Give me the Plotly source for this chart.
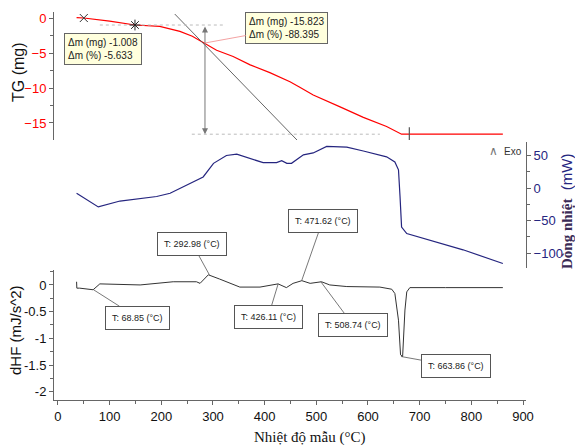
import plotly.graph_objects as go

# ---------------- data ----------------
# TG curve (mg) vs temperature (°C)
tg_temp = [36, 50, 100, 149, 197, 236, 260, 275, 285, 307, 339, 372, 410, 430, 449, 468,
           494, 546, 591, 636, 665, 700, 780, 861]
tg_mass = [0.05, 0.0, -0.45, -1.0, -1.2, -1.9, -2.6, -3.2, -3.7, -4.6, -5.5, -6.7, -7.8,
           -8.5, -9.1, -9.9, -11.0, -12.7, -14.2, -15.5, -16.6, -16.6, -16.6, -16.6]

# Heat flow curve (mW)
hf_temp = [36, 78, 120, 159, 191, 217, 249, 281, 301, 326, 346, 365, 397, 423, 433, 443,
           452, 475, 494, 520, 559, 591, 636, 652, 659, 662, 665, 675, 720, 784, 861]
hf_val = [-8, -29, -20, -16, -13, -8, 5, 17, 38, 50, 52, 47, 39, 39, 42, 38,
          38, 51, 54, 64, 63, 57, 48, 40, 28, -13, -60, -70, -80, -95, -116]

# dHF curve (mJ/s^2)
dhf_temp = [36, 36.5, 42, 55, 68, 81, 120, 159, 223, 268, 275, 291, 313, 352, 391, 426,
            442, 455, 472, 488, 510, 526, 559, 623, 646, 652, 659, 663, 667, 671.5, 675,
            681, 750, 861]
dhf_val = [0.06, -0.06, -0.06, -0.07, -0.09, 0.02, 0.01, 0.0, 0.06, 0.06, 0.03, 0.19, 0.11,
           -0.04, -0.04, 0.02, -0.05, 0.03, 0.08, 0.03, 0.06, 0.0, -0.03, -0.04, -0.08,
           -0.16, -0.66, -1.31, -1.34, -0.47, -0.13, -0.05, -0.05, -0.05]

# TG analysis marks
tg_start = (50, 0.0)
tg_step = (149, -1.0)
tg_end = (680, -16.6)
tangent_temp = [226, 474]
tangent_mass = [0.57, -18.3]
onset_temp = 284.5
upper_dot_temp = [81, 319]
lower_dot_temp = [259, 623]
step_level = -1.0
end_level = -16.6
box1_text = "Δm (mg) -1.008<br>Δm (%) -5.633"
box2_text = "Δm (mg) -15.823<br>Δm (%) -88.395"
box2_point = (284.5, -3.57)

# Peak labels on dHF
peak_temp = [68.85, 292.98, 426.11, 471.62, 508.74, 663.86]
peak_val = [-0.09, 0.19, 0.02, 0.08, 0.06, -1.34]
peak_text = ["T: 68.85 (°C)", "T: 292.98 (°C)", "T: 426.11 (°C)",
             "T: 471.62 (°C)", "T: 508.74 (°C)", "T: 663.86 (°C)"]
peak_offset = [(44, 28), (-17, -31), (-10, 33), (21, -60), (32, 43), (55, 10)]

x_ticks = [0, 100, 200, 300, 400, 500, 600, 700, 800, 900]
tg_ticks = [0, -5, -10, -15]
hf_ticks = [50, 0, -50, -100]
dhf_ticks = [0, -0.5, -1, -1.5, -2]
dhf_ticktext = ["0", "-0.5", "-1", "-1.5", "-2"]

W, H = 575, 445
SANS = "Liberation Sans, Arial"
AX = "#666666"

fig = go.Figure()

# TG (top)
fig.add_trace(go.Scatter(x=tg_temp, y=tg_mass, mode="lines", line=dict(color="#FF0000", width=1.2),
                         xaxis="x", yaxis="y3", hoverinfo="skip"))
fig.add_trace(go.Scatter(x=tangent_temp, y=tangent_mass, mode="lines",
                         line=dict(color="#555555", width=0.9), xaxis="x", yaxis="y3"))
fig.add_trace(go.Scatter(x=upper_dot_temp, y=[step_level, step_level], mode="lines",
                         line=dict(color="#BBBBBB", width=1, dash="dot"), xaxis="x", yaxis="y3"))
fig.add_trace(go.Scatter(x=lower_dot_temp, y=[end_level, end_level], mode="lines",
                         line=dict(color="#BBBBBB", width=1, dash="dot"), xaxis="x", yaxis="y3"))
fig.add_trace(go.Scatter(x=[tg_start[0]], y=[tg_start[1]], mode="markers",
                         marker=dict(symbol="x-thin", size=8, line=dict(color="#333", width=1)),
                         xaxis="x", yaxis="y3"))
fig.add_trace(go.Scatter(x=[tg_step[0]], y=[tg_step[1]], mode="markers",
                         marker=dict(symbol="asterisk", size=9, line=dict(color="#222", width=1)),
                         xaxis="x", yaxis="y3"))
fig.add_trace(go.Scatter(x=[tg_end[0]], y=[tg_end[1]], mode="markers",
                         marker=dict(symbol="line-ns", size=10, line=dict(color="#555", width=1.2)),
                         xaxis="x", yaxis="y3"))

# Heat flow (middle)
fig.add_trace(go.Scatter(x=hf_temp, y=hf_val, mode="lines", line=dict(color="#25257F", width=1.2),
                         xaxis="x", yaxis="y2"))

# dHF (bottom)
fig.add_trace(go.Scatter(x=dhf_temp, y=dhf_val, mode="lines", line=dict(color="#333333", width=1),
                         xaxis="x", yaxis="y"))

annotations = []
# onset arrow
annotations.append(dict(x=onset_temp, y=end_level, ax=onset_temp, ay=step_level,
                        xref="x", yref="y3", axref="x", ayref="y3", text="",
                        showarrow=True, arrowhead=2, arrowsize=1.2, arrowwidth=1,
                        arrowside="end+start", arrowcolor="#777777", standoff=0, startstandoff=0))
annotations.append(dict(x=88, y=-4.36, xref="x", yref="y3", text=box1_text, showarrow=False,
                        align="left", font=dict(family=SANS, size=10, color="#222"),
                        bgcolor="#FFFFDD", bordercolor="#666", borderwidth=1, borderpad=3))
annotations.append(dict(x=box2_point[0], y=box2_point[1], xref="x", yref="y3", text=box2_text,
                        showarrow=True, ax=82, ay=-15, arrowhead=0, arrowwidth=0.8,
                        arrowcolor="#F08A8A", align="left",
                        font=dict(family=SANS, size=10, color="#222"),
                        bgcolor="#FFFFDD", bordercolor="#666", borderwidth=1, borderpad=3))

for t, v, s, (ox, oy) in zip(peak_temp, peak_val, peak_text, peak_offset):
    annotations.append(dict(x=t, y=v, xref="x", yref="y", text=s, showarrow=True,
                            ax=ox, ay=oy, arrowhead=0, arrowwidth=0.8, arrowcolor="#555",
                            font=dict(family=SANS, size=9, color="#222"),
                            bgcolor="white", bordercolor="#555", borderwidth=1, borderpad=6))

# axis titles
ctr = dict(xanchor="center", yanchor="middle", showarrow=False, xref="paper", yref="paper")
annotations.append(dict(x=18 / W, y=1 - 72 / H, text="TG (mg)", textangle=-90,
                        font=dict(family="Liberation Sans, Arial", size=16, color="#111"), **ctr))
annotations.append(dict(x=15 / W, y=1 - 330 / H, text="dHF (mJ/s^2)", textangle=-90,
                        font=dict(family="Liberation Sans, Arial", size=15, color="#111"), **ctr))
annotations.append(dict(x=566 / W, y=1 - 212 / H,
                        text="<span style='font-family:Liberation Serif, Times New Roman; color:#3A2A55'>"
                             "<b>Dòng nhiệt</b></span>  (mW)",
                        textangle=-90,
                        font=dict(family="Liberation Sans, Arial", size=15, color="#25257F"), **ctr))
annotations.append(dict(x=309 / W, y=1 - 437 / H, text="Nhiệt độ mẫu (°C)",
                        font=dict(family="Liberation Serif, Times New Roman", size=15, color="#111"),
                        **ctr))
annotations.append(dict(x=513 / W, y=1 - 151 / H, text="Exo",
                        font=dict(family=SANS, size=10, color="#333"), **ctr))
annotations.append(dict(x=493 / W, y=1 - 151 / H, text="∧",
                        font=dict(family="DejaVu Sans", size=12, color="#777"), **ctr))

common = dict(ticks="outside", ticklen=4, tickcolor=AX, showline=True, linecolor=AX, linewidth=1,
              showgrid=False, zeroline=False, automargin=False)

fig.update_layout(
    width=W, height=H, margin=dict(l=0, r=0, t=0, b=0, autoexpand=False),
    paper_bgcolor="white", plot_bgcolor="white", showlegend=False,
    xaxis=dict(domain=[54 / W, 526 / W], range=[-7.7, 905.8], anchor="y",
               tickvals=x_ticks,
               minor=dict(dtick=50, ticks="outside", ticklen=3, tickcolor=AX),
               tickfont=dict(family=SANS, size=13, color="#111"), **common),
    yaxis=dict(domain=[1 - 400 / H, 1 - 270 / H], range=[-2.155, 0.28], anchor="x",
               tickvals=dhf_ticks, ticktext=dhf_ticktext,
               minor=dict(dtick=0.25, ticks="outside", ticklen=3, tickcolor=AX),
               tickfont=dict(family=SANS, size=13, color="#111"), **common),
    yaxis2=dict(domain=[1 - 268 / H, 1 - 142 / H], range=[-123, 70.8], anchor="x", side="right",
                tickvals=hf_ticks,
                minor=dict(dtick=25, ticks="outside", ticklen=3, tickcolor=AX),
                tickfont=dict(family=SANS, size=13, color="#25257F"), **common),
    yaxis3=dict(domain=[1 - 140 / H, 1 - 12 / H], range=[-17.43, 0.86], anchor="x",
                tickvals=tg_ticks,
                minor=dict(dtick=2.5, ticks="outside", ticklen=3, tickcolor=AX),
                tickfont=dict(family=SANS, size=13, color="#FF0000"), **common),
    annotations=annotations,
)

fig.write_html("out.html")
